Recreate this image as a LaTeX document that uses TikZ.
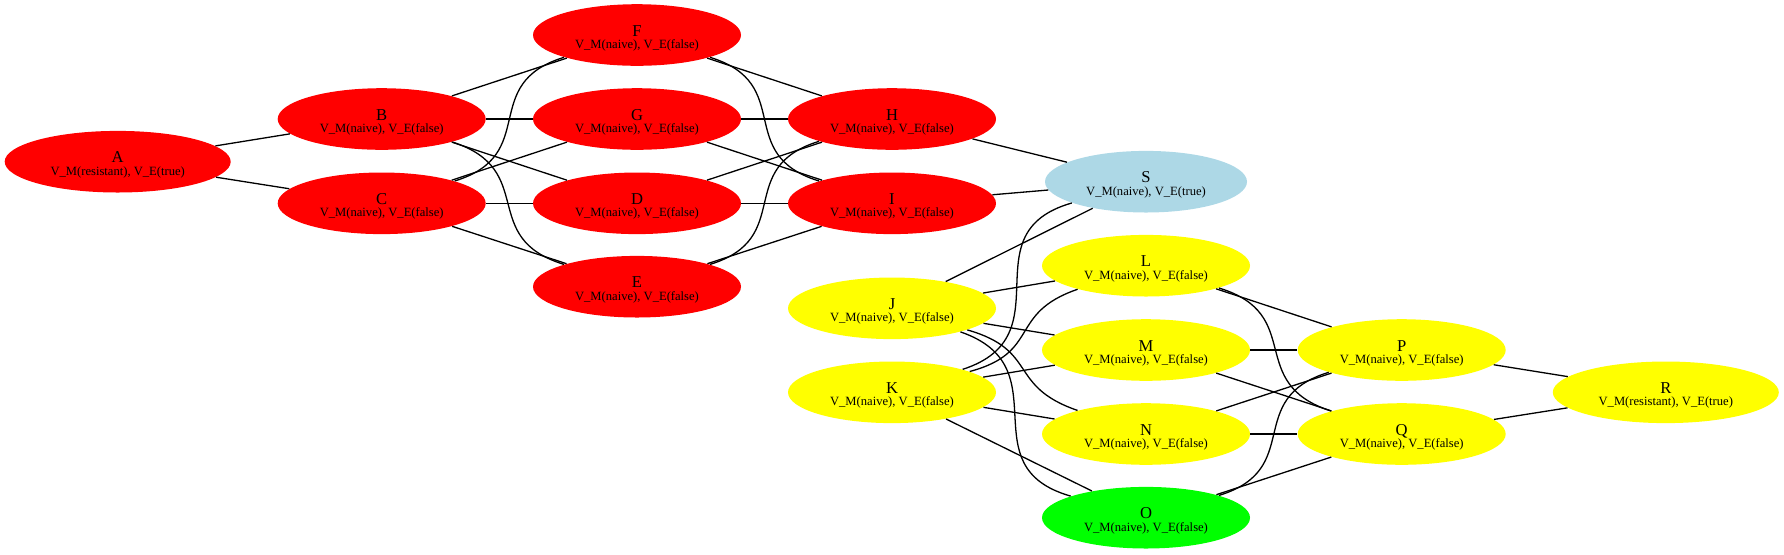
\documentclass[tikz,border=0pt]{standalone}
\usepackage{fontspec}
\setmainfont{Liberation Serif}
\usepackage{tikz}
\usetikzlibrary{shapes.geometric}

\definecolor{hellblau}{HTML}{ADD8E6}
\definecolor{gruen}{HTML}{00FF00}
\definecolor{rotfarbe}{HTML}{FF0000}
\definecolor{gelbfarbe}{HTML}{FFFF00}

\tikzset{
  zustand/.style={ellipse, inner sep=0pt, minimum width=104pt, minimum height=30.8pt,
    align=center, font=\fontsize{8.3pt}{6.3pt}\selectfont, text height=15pt, text depth=1.4pt},
  rot/.style={zustand, fill=rotfarbe},
  gelb/.style={zustand, fill=gelbfarbe},
  kante/.style={line width=0.65pt},
  bogen/.style={kante, looseness=1.4}
}
\newcommand{\zst}[3]{#1\\{\fontsize{6.3pt}{6.3pt}\selectfont V\_M(#2), V\_E(#3)}}

\begin{document}
\begin{tikzpicture}[x=0.5pt, y=-0.5pt]
    \useasboundingbox (0,0) rectangle (1784,554);

    % Roter Teil
    \node[rot, minimum width=113pt] (A) at (117.7,161.7) {\zst{A}{resistant}{true}};
    \node[rot] (B) at (381.7,119) {\zst{B}{naive}{false}};
    \node[rot] (C) at (381.7,203.3) {\zst{C}{naive}{false}};
    \node[rot] (F) at (637,35) {\zst{F}{naive}{false}};
    \node[rot] (G) at (637,119) {\zst{G}{naive}{false}};
    \node[rot] (D) at (637,203.3) {\zst{D}{naive}{false}};
    \node[rot] (E) at (637,286.7) {\zst{E}{naive}{false}};
    \node[rot] (H) at (892,119) {\zst{H}{naive}{false}};
    \node[rot] (I) at (892,203.3) {\zst{I}{naive}{false}};

    % Knoten S
    \node[zustand, fill=hellblau, minimum width=101pt] (S) at (1146,181.7) {\zst{S}{naive}{true}};

    % Gelber Teil
    \node[gelb] (L) at (1146,265.7) {\zst{L}{naive}{false}};
    \node[gelb] (J) at (892,308.3) {\zst{J}{naive}{false}};
    \node[gelb] (M) at (1146,350) {\zst{M}{naive}{false}};
    \node[gelb] (K) at (892,392.3) {\zst{K}{naive}{false}};
    \node[gelb] (N) at (1146,434) {\zst{N}{naive}{false}};
    \node[zustand, fill=gruen] (O) at (1146,517.7) {\zst{O}{naive}{false}};
    \node[gelb] (P) at (1401.7,350) {\zst{P}{naive}{false}};
    \node[gelb] (Q) at (1401.7,434) {\zst{Q}{naive}{false}};
    \node[gelb, minimum width=113pt] (R) at (1665.8,392.3) {\zst{R}{resistant}{true}};

    % Kanten links
    \draw[kante] (A) -- (B);
    \draw[kante] (A) -- (C);
    \draw[kante] (B) -- (F);
    \draw[kante] (B) -- (G);
    \draw[kante] (B) -- (D);
    \draw[bogen] (B) to[out=-18, in=163] (E);
    \draw[bogen] (C) to[out=17, in=-163] (F);
    \draw[kante] (C) -- (G);
    \draw[kante] (C) -- (D);
    \draw[kante] (C) -- (E);
    \draw[kante] (F) -- (H);
    \draw[bogen] (F) to[out=-17, in=163] (I);
    \draw[kante] (G) -- (H);
    \draw[kante] (G) -- (I);
    \draw[kante] (D) -- (H);
    \draw[kante] (D) -- (I);
    \draw[bogen] (E) to[out=17, in=-163] (H);
    \draw[kante] (E) -- (I);
    \draw[kante] (H) -- (S);
    \draw[kante] (I) -- (S);

    % Kanten rechts
    \draw[kante] (J) -- (S);
    \draw[bogen] (K) to[out=18, in=196] (S);
    \draw[kante] (J) -- (L);
    \draw[kante] (J) -- (M);
    \draw[bogen] (J) to[out=-16, in=161] (N);
    \draw[bogen] (J) to[out=-19, in=164] (O);
    \draw[bogen] (K) to[out=15, in=199] (L);
    \draw[kante] (K) -- (M);
    \draw[kante] (K) -- (N);
    \draw[kante] (K) -- (O);
    \draw[kante] (L) -- (P);
    \draw[bogen] (L) to[out=-17, in=162] (Q);
    \draw[kante] (M) -- (P);
    \draw[kante] (M) -- (Q);
    \draw[kante] (N) -- (P);
    \draw[kante] (N) -- (Q);
    \draw[bogen] (O) to[out=17, in=197] (P);
    \draw[kante] (O) -- (Q);
    \draw[kante] (P) -- (R);
    \draw[kante] (Q) -- (R);
\end{tikzpicture}
\end{document}
